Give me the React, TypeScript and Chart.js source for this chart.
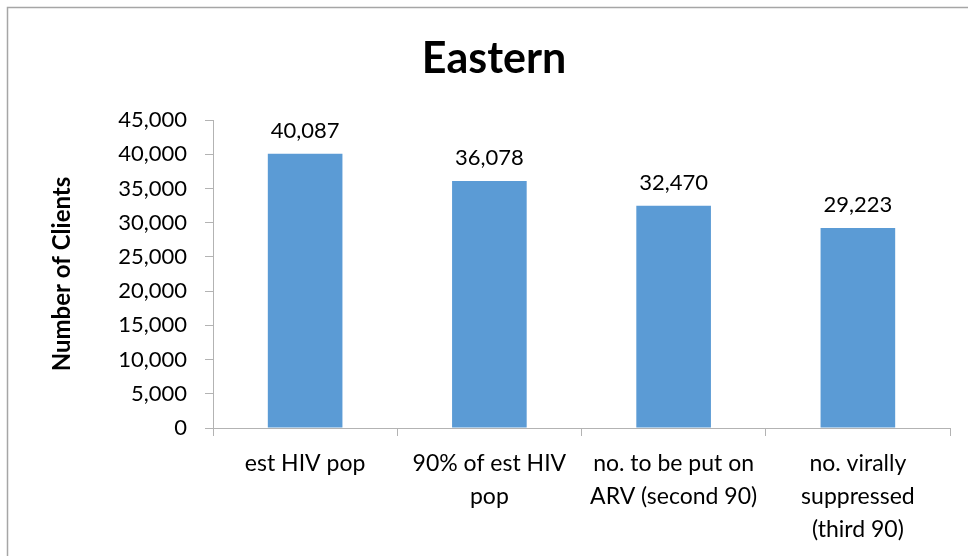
import React, { useEffect, useRef } from "react";
import { Chart, registerables } from "chart.js";

Chart.register(...registerables);

const chartTitle = "Eastern";
const yAxisTitle = "Number of Clients";
const categories: string[][] = [
  ["est HIV pop"],
  ["90% of est HIV", "pop"],
  ["no. to be put on", "ARV (second 90)"],
  ["no. virally", "suppressed", "(third 90)"],
];
const values: number[] = [40087, 36078, 32470, 29223];
const yMin = 0;
const yMax = 45000;
const yStep = 5000;

const FONT = "Lato, 'Open Sans', sans-serif";
const fmt = (v: number) => v.toLocaleString("en-US");

const decorPlugin = {
  id: "decor",
  beforeDraw(chart: any) {
    const ctx = chart.ctx;
    ctx.save();
    ctx.fillStyle = "#ffffff";
    ctx.fillRect(0, 0, chart.width, chart.height);
    ctx.strokeStyle = "#a6a6a6";
    ctx.lineWidth = 1.5;
    ctx.beginPath();
    ctx.moveTo(7.5, chart.height);
    ctx.lineTo(7.5, 7.5);
    ctx.lineTo(chart.width, 7.5);
    ctx.stroke();
    ctx.restore();
  },
  afterDraw(chart: any) {
    const ctx = chart.ctx;
    ctx.save();
    ctx.fillStyle = "#000000";
    ctx.textAlign = "center";
    ctx.textBaseline = "middle";
    ctx.font = `bold 43px ${FONT}`;
    ctx.fillText(chartTitle, 494, 59);
    const area = chart.chartArea;
    ctx.translate(62, (area.top + area.bottom) / 2);
    ctx.rotate(-Math.PI / 2);
    ctx.font = `bold 24px ${FONT}`;
    ctx.fillText(yAxisTitle, 0, 0);
    ctx.restore();
  },
  afterDatasetsDraw(chart: any) {
    const ctx = chart.ctx;
    const meta = chart.getDatasetMeta(0);
    ctx.save();
    ctx.fillStyle = "#000000";
    ctx.textAlign = "center";
    ctx.textBaseline = "middle";
    ctx.font = `22px ${FONT}`;
    meta.data.forEach((bar: any, i: number) => {
      ctx.fillText(fmt(values[i]), bar.x, bar.y - 23);
    });
    ctx.restore();
  },
};

export default function App() {
  const ref = useRef<HTMLCanvasElement | null>(null);
  useEffect(() => {
    if (!ref.current) return;
    const chart = new Chart(ref.current, {
      type: "bar",
      data: {
        labels: categories,
        datasets: [
          {
            data: values,
            backgroundColor: "#5b9bd5",
            borderWidth: 0,
            categoryPercentage: 1,
            barPercentage: 0.405,
          },
        ],
      },
      options: {
        animation: false,
        responsive: false,
        devicePixelRatio: 1,
        layout: { padding: { left: 0, top: 120, right: 18, bottom: 0 } },
        plugins: {
          legend: { display: false },
          title: { display: false },
          tooltip: { enabled: false },
        },
        scales: {
          x: {
            offset: true,
            grid: {
              offset: true,
              drawOnChartArea: false,
              drawTicks: true,
              tickLength: 8,
              color: "#b3b3b3",
            },
            border: { display: true, color: "#b3b3b3", width: 1 },
            ticks: {
              color: "#000000",
              padding: 11,
              maxRotation: 0,
              autoSkip: false,
              font: { family: FONT, size: 23, lineHeight: 1.43 },
            },
            afterFit(scale: any) {
              scale.height = 128;
            },
          },
          y: {
            min: yMin,
            max: yMax,
            grid: {
              drawOnChartArea: false,
              drawTicks: true,
              tickLength: 8,
              color: "#b3b3b3",
            },
            border: { display: true, color: "#b3b3b3", width: 1 },
            ticks: {
              stepSize: yStep,
              color: "#000000",
              padding: 18,
              font: { family: FONT, size: 22 },
              callback: (v: any) => fmt(Number(v)),
            },
            afterFit(scale: any) {
              scale.width = 213;
            },
          },
        },
      },
      plugins: [decorPlugin],
    });
    return () => chart.destroy();
  }, []);
  return (
    <div style={{ position: "fixed", left: 0, top: 0, width: 968, height: 556 }}>
      <canvas ref={ref} width={968} height={556} style={{ display: "block" }} />
    </div>
  );
}
